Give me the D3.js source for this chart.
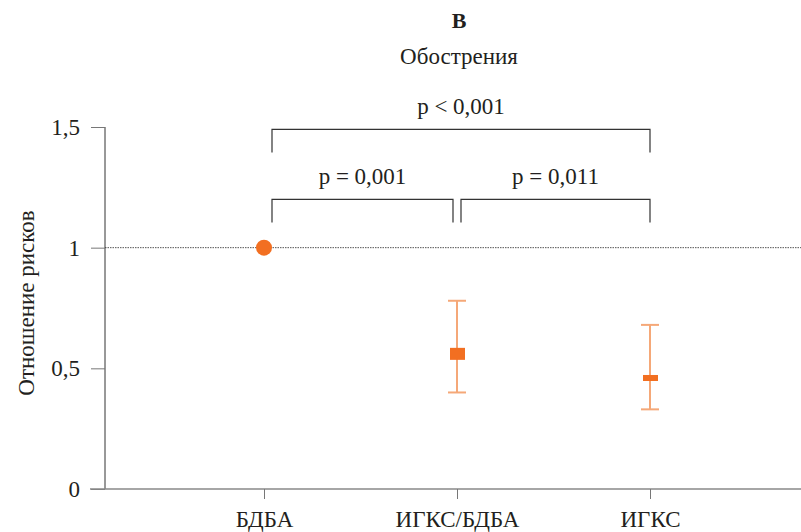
<!DOCTYPE html>
<html>
<head>
    <meta charset="utf-8">
    <title>risk-ratio-exacerbations</title>
    <style>
body { margin: 0; background: #fff; }
text { font-family: "Liberation Serif", "DejaVu Serif", serif; fill: #231f20; }
.whisker { stroke: #f5a878; stroke-width: 2; }
.mark { fill: #f26f21; }
</style>
</head>
<body>
<script src="https://cdn.jsdelivr.net/npm/d3@7"></script>
<script>
// data
var categories = ["БДБА", "ИГКС/БДБА", "ИГКС"];
var estimate = [1, 0.56, 0.46];
var lower = [null, 0.40, 0.33];
var upper = [null, 0.78, 0.68];
var markShape = ["circle", "square", "bar"];
var yTicks = [0, 0.5, 1, 1.5];
var yTickLabels = ["0", "0,5", "1", "1,5"];
// comparisons: from index, to index, label, bracket level (in y units)
var compFrom = [0, 0, 1];
var compTo = [2, 1, 2];
var compLabel = ["p < 0,001", "p = 0,001", "p = 0,011"];
var compLevel = [1.49, 1.2, 1.2];

var totalWidth = 801, totalHeight = 532;
var fontSize = "23px";

var svg = d3.select("body").append("svg")
    .attr("width", totalWidth)
    .attr("height", totalHeight);

var x = d3.scalePoint().domain(categories).range([264, 650]);
var y = d3.scaleLinear().domain([0, 1.5]).range([489, 127]);
var axisX = 105;

// title
svg.append("text").attr("x", 459).attr("y", 28).attr("text-anchor", "middle")
    .style("font-weight", "bold").style("font-size", "22px").text("В");
svg.append("text").attr("x", 459).attr("y", 64).attr("text-anchor", "middle")
    .style("font-size", fontSize).text("Обострения");

// reference line at 1
svg.append("line")
    .attr("x1", axisX).attr("x2", totalWidth)
    .attr("y1", y(1)).attr("y2", y(1))
    .attr("stroke", "#555").attr("stroke-width", 1)
    .attr("stroke-dasharray", "1.5,1");

// y axis
var yAxis = svg.append("g")
    .attr("transform", "translate(" + axisX + ",0)")
    .call(d3.axisLeft(y).tickValues(yTicks).tickSize(14).tickPadding(11)
        .tickFormat(function (d, i) { return yTickLabels[i]; }));
yAxis.select(".domain").attr("stroke", "#333").attr("d", "M0," + y(1.5) + "V" + y(0));
yAxis.selectAll(".tick line").attr("stroke", "#777");
yAxis.selectAll("text").style("font-size", fontSize).attr("fill", "#231f20")
    .style("font-family", "Liberation Serif, serif");

// x axis
var xAxis = svg.append("g")
    .attr("transform", "translate(0," + y(0) + ")")
    .call(d3.axisBottom(x).tickSize(10).tickPadding(12));
xAxis.select(".domain").attr("stroke", "#888").attr("stroke-width", 1.5)
    .attr("d", "M90,0H" + totalWidth);
xAxis.selectAll(".tick line").attr("stroke", "#777");
xAxis.selectAll("text").style("font-size", fontSize).attr("fill", "#231f20")
    .style("font-family", "Liberation Serif, serif");

// y axis label
svg.append("text")
    .attr("transform", "translate(34," + 303 + ") rotate(-90)")
    .attr("text-anchor", "middle")
    .style("font-size", fontSize)
    .text("Отношение рисков");

// whiskers
categories.forEach(function (c, i) {
    if (lower[i] == null) return;
    var g = svg.append("g");
    g.append("line").attr("class", "whisker")
        .attr("x1", x(c)).attr("x2", x(c))
        .attr("y1", y(upper[i])).attr("y2", y(lower[i]));
    [upper[i], lower[i]].forEach(function (v) {
        g.append("line").attr("class", "whisker")
            .attr("x1", x(c) - 9).attr("x2", x(c) + 9)
            .attr("y1", y(v)).attr("y2", y(v));
    });
});

// point estimates
categories.forEach(function (c, i) {
    var cx = x(c), cy = y(estimate[i]);
    if (markShape[i] === "circle") {
        svg.append("circle").attr("class", "mark").attr("cx", cx).attr("cy", cy).attr("r", 8);
    } else if (markShape[i] === "square") {
        svg.append("rect").attr("class", "mark")
            .attr("x", cx - 7).attr("y", cy - 6).attr("width", 15).attr("height", 12);
    } else {
        svg.append("rect").attr("class", "mark")
            .attr("x", cx - 7).attr("y", cy - 3).attr("width", 15).attr("height", 6);
    }
});

// significance brackets
compLabel.forEach(function (lab, i) {
    var x1 = x(categories[compFrom[i]]), x2 = x(categories[compTo[i]]);
    // small gaps where neighbouring brackets meet
    x1 += (compFrom[i] === 0) ? 8 : 4;
    x2 -= (compTo[i] === categories.length - 1) ? 0 : 4;
    var by = y(compLevel[i]);
    svg.append("path")
        .attr("d", "M" + x1 + "," + (by + 23) + "V" + by + "H" + x2 + "V" + (by + 23))
        .attr("fill", "none").attr("stroke", "#333").attr("stroke-width", 1.2);
    svg.append("text")
        .attr("x", (x1 + x2) / 2).attr("y", by - 15)
        .attr("text-anchor", "middle").style("font-size", fontSize)
        .text(lab);
});
</script>
</body>
</html>
